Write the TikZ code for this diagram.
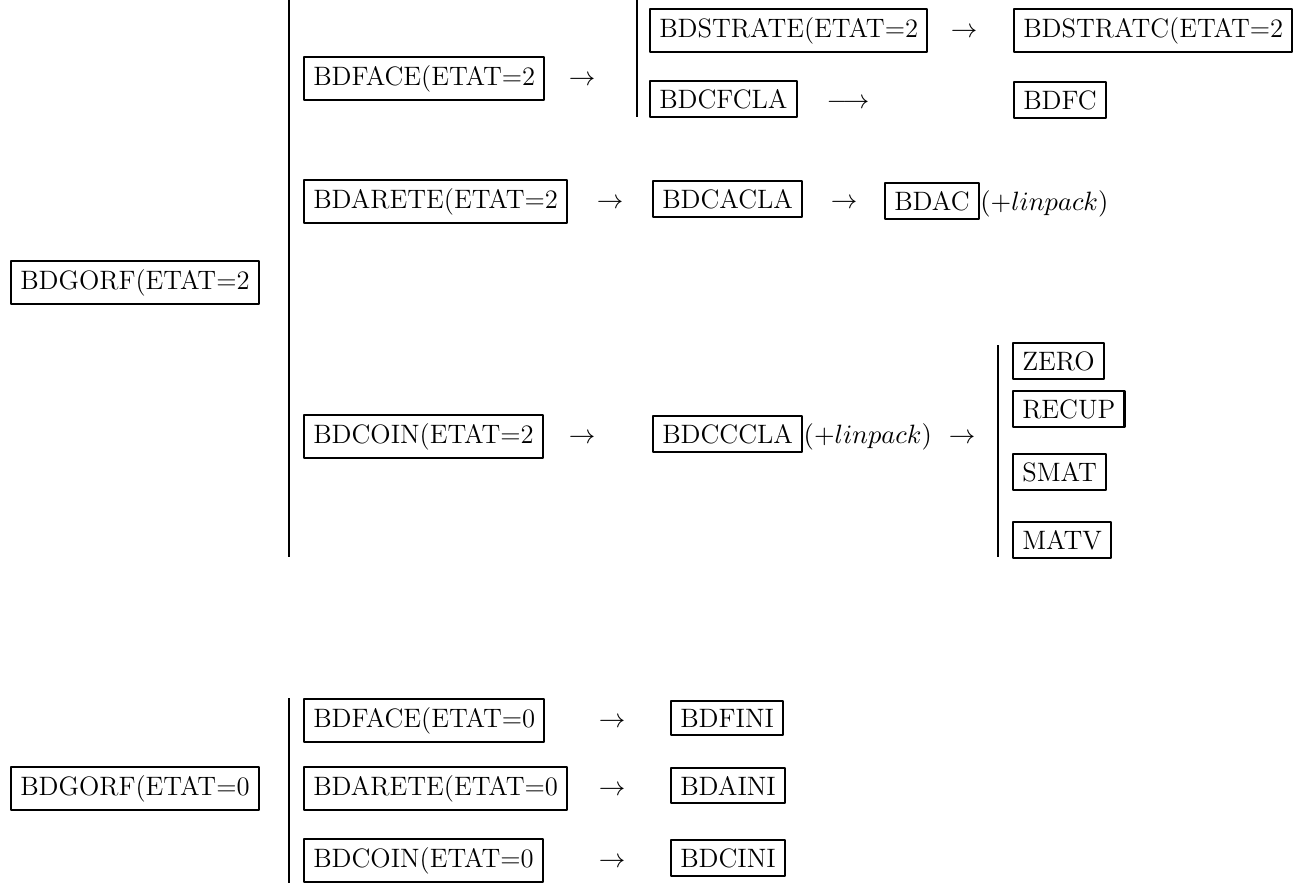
\documentclass[tikz,border=0pt]{standalone}
\begin{document}
\begin{tikzpicture}[x=0.4132pt,y=-0.4132pt, line join=round, line cap=round,
	font=\fontsize{11}{13}\selectfont,
	bx/.style={draw,line width=0.9pt,anchor=base west,inner xsep=3.8pt,inner ysep=3.4pt},
	fl/.style={inner sep=0pt,anchor=base},
	bar/.style={line width=1pt,line cap=butt}]
	\useasboundingbox (0,0) rectangle (1309,883);
	% vertical bars
	\path 
	(289,0) coordinate (b1t) (289,557) coordinate (b1b)
	(637,0) coordinate (b2t) (637,117) coordinate (b2b)
	(998,345) coordinate (b3t) (998,557) coordinate (b3b)
	(289,698) coordinate (b4t) (289,883) coordinate (b4b)
	;
	\draw[bar] (b1t)--(b1b);
	\draw[bar] (b2t)--(b2b);
	\draw[bar] (b3t)--(b3b);
	\draw[bar] (b4t)--(b4b);
	% ETAT=2
	\node[bx] (gorfa) at (10,289) {BDGORF(ETAT=2};
	\node[bx] (facea) at (303,85) {BDFACE(ETAT=2};
	\node[fl] (fa1) at (582,85) {$\rightarrow$};
	\node[bx] (stratea) at (649,37) {BDSTRATE(ETAT=2};
	\node[fl] (fa2) at (964,37) {$\rightarrow$};
	\node[bx] (stratca) at (1013,37) {BDSTRATC(ETAT=2};
	\node[bx] (cfcla) at (649,108) {BDCFCLA};
	\node[fl] (fa3) at (848,108) {$\longrightarrow$};
	\node[bx] (bdfc) at (1013,109) {BDFC};
	\node[bx] (aretea) at (303,208) {BDARETE(ETAT=2};
	\node[fl] (fa4) at (610,208) {$\rightarrow$};
	\node[bx] (cacla) at (652,208) {BDCACLA};
	\node[fl] (fa5) at (844,208) {$\rightarrow$};
	\node[bx] (bdac) at (884,210) {BDAC};
	\node[fl,anchor=base west] (lpa) at (bdac.base east) {$(+linpack)$};
	\node[bx] (coina) at (303,443) {BDCOIN(ETAT=2};
	\node[fl] (fa6) at (582,443) {$\rightarrow$};
	\node[bx] (cccla) at (652,443) {BDCCCLA};
	\node[fl,anchor=base west] (lpb) at (cccla.base east) {$(+linpack)$};
	\node[fl] (fa7) at (962,443) {$\rightarrow$};
	\node[bx] (zero) at (1012,370) {ZERO};
	\node[bx] (recup) at (1012,418) {RECUP};
	\node[bx] (smat) at (1012,481) {SMAT};
	\node[bx] (matv) at (1012,549) {MATV};
	% ETAT=0
	\node[bx] (gorfb) at (10,795) {BDGORF(ETAT=0};
	\node[bx] (faceb) at (303,727) {BDFACE(ETAT=0};
	\node[fl] (fb1) at (612,727) {$\rightarrow$};
	\node[bx] (bdfini) at (670,727) {BDFINI};
	\node[bx] (areteb) at (303,795) {BDARETE(ETAT=0};
	\node[fl] (fb2) at (612,795) {$\rightarrow$};
	\node[bx] (bdaini) at (670,795) {BDAINI};
	\node[bx] (coinb) at (303,867) {BDCOIN(ETAT=0};
	\node[fl] (fb3) at (612,867) {$\rightarrow$};
	\node[bx] (bdcini) at (670,867) {BDCINI};
\end{tikzpicture}
\end{document}
